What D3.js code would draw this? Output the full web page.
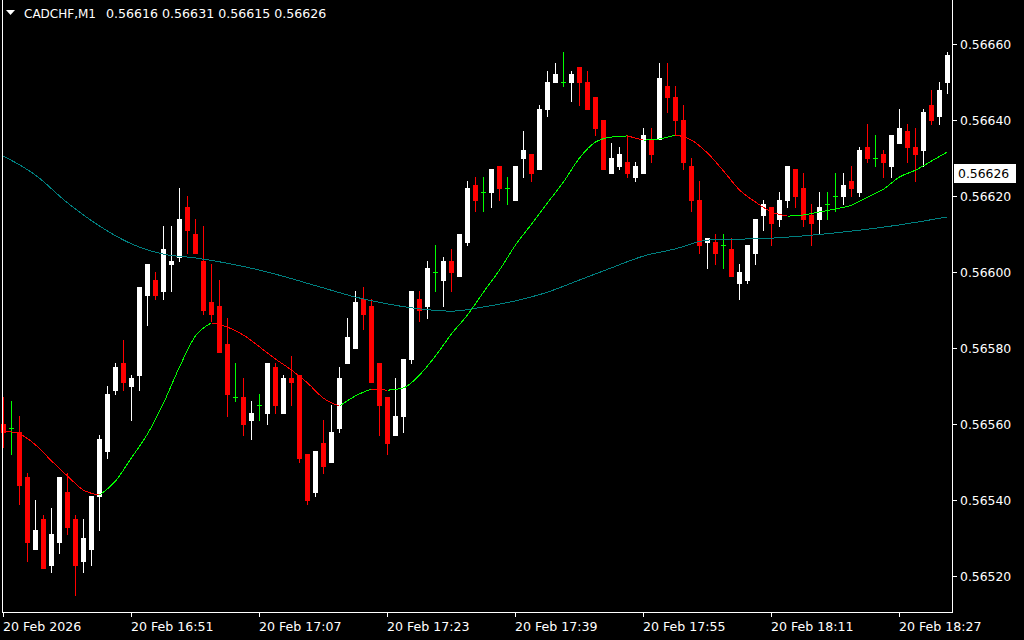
<!DOCTYPE html>
<html><head><meta charset="utf-8">
<script src="https://cdn.jsdelivr.net/npm/d3@7"></script>
<style>html,body{margin:0;padding:0;background:#000;overflow:hidden}svg{display:block}</style>
</head><body><svg id="c" width="1024" height="640"></svg>
<script>
const symbol = "CADCHF,M1";
const headerValues = ["0.56616", "0.56631", "0.56615", "0.56626"];
const currentPrice = 0.56626;
const startTime = new Date(2026, 1, 20, 16, 35);

const open = [
0.56560,0.56559,0.56558,0.56546,0.56527,0.56535,0.56523,0.56529,0.56542,0.56535,
0.56524,0.56527,0.56541,0.56553,0.56569,0.56576,0.56570,0.56573,0.56594,0.56598,
0.56595,0.56602,0.56604,0.56617,0.56610,0.56603,0.56592,0.56591,0.56581,0.56567,
0.56567,0.56561,0.56565,0.56563,0.56575,0.56563,0.56572,0.56573,0.56552,0.56542,
0.56555,0.56550,0.56559,0.56576,0.56580,0.56593,0.56591,0.56576,0.56567,0.56557,
0.56562,0.56577,0.56593,0.56591,0.56600,0.56598,0.56603,0.56599,0.56608,0.56623,
0.56621,0.56621,0.56628,0.56622,0.56619,0.56630,0.56631,0.56627,0.56643,0.56650,
0.56650,0.56650,0.56654,0.56650,0.56646,0.56640,0.56626,0.56628,0.56629,0.56625,
0.56626,0.56635,0.56635,0.56649,0.56646,0.56640,0.56628,0.56619,0.56608,0.56608,
0.56607,0.56606,0.56597,0.56598,0.56605,0.56615,0.56617,0.56614,0.56619,0.56627,
0.56622,0.56615,0.56614,0.56618,0.56620,0.56620,0.56624,0.56621,0.56633,0.56630,
0.56631,0.56628,0.56634,0.56637,0.56633,0.56632,0.56644,0.56641,0.56650];
const high = [
0.56567,0.56566,0.56562,0.56547,0.56540,0.56536,0.56538,0.56546,0.56547,0.56536,
0.56535,0.56541,0.56557,0.56570,0.56576,0.56582,0.56573,0.56596,0.56602,0.56600,
0.56612,0.56612,0.56622,0.56620,0.56614,0.56612,0.56602,0.56598,0.56588,0.56576,
0.56572,0.56566,0.56568,0.56576,0.56576,0.56573,0.56578,0.56573,0.56552,0.56553,
0.56561,0.56565,0.56575,0.56588,0.56595,0.56596,0.56593,0.56576,0.56567,0.56572,
0.56577,0.56595,0.56595,0.56603,0.56607,0.56604,0.56606,0.56610,0.56624,0.56625,
0.56625,0.56627,0.56628,0.56625,0.56628,0.56637,0.56631,0.56644,0.56653,0.56655,
0.56658,0.56653,0.56654,0.56653,0.56646,0.56640,0.56634,0.56633,0.56636,0.56629,
0.56638,0.56638,0.56655,0.56655,0.56649,0.56644,0.56630,0.56624,0.56609,0.56610,
0.56610,0.56609,0.56602,0.56607,0.56614,0.56619,0.56617,0.56621,0.56628,0.56627,
0.56626,0.56618,0.56621,0.56621,0.56626,0.56626,0.56628,0.56633,0.56639,0.56636,
0.56632,0.56636,0.56643,0.56639,0.56638,0.56643,0.56648,0.56650,0.56658];
const low = [
0.56554,0.56552,0.56539,0.56524,0.56527,0.56522,0.56521,0.56526,0.56531,0.56515,
0.56521,0.56523,0.56532,0.56551,0.56568,0.56569,0.56561,0.56569,0.56586,0.56593,
0.56593,0.56595,0.56603,0.56605,0.56605,0.56589,0.56587,0.56579,0.56562,0.56566,
0.56557,0.56556,0.56561,0.56560,0.56563,0.56563,0.56565,0.56550,0.56539,0.56541,
0.56547,0.56550,0.56558,0.56576,0.56580,0.56585,0.56571,0.56557,0.56552,0.56557,
0.56558,0.56576,0.56587,0.56588,0.56595,0.56591,0.56595,0.56599,0.56607,0.56616,
0.56616,0.56617,0.56619,0.56618,0.56619,0.56625,0.56624,0.56627,0.56641,0.56650,
0.56649,0.56645,0.56644,0.56643,0.56636,0.56627,0.56626,0.56627,0.56625,0.56624,
0.56626,0.56629,0.56635,0.56642,0.56636,0.56627,0.56616,0.56605,0.56601,0.56602,
0.56601,0.56599,0.56593,0.56597,0.56602,0.56611,0.56607,0.56612,0.56617,0.56617,
0.56612,0.56607,0.56610,0.56614,0.56616,0.56618,0.56620,0.56620,0.56629,0.56628,
0.56625,0.56625,0.56634,0.56629,0.56624,0.56628,0.56639,0.56639,0.56647];
const close = [
0.56558,0.56559,0.56544,0.56529,0.56532,0.56522,0.56531,0.56546,0.56533,0.56523,
0.56530,0.56541,0.56556,0.56568,0.56575,0.56571,0.56572,0.56596,0.56602,0.56594,
0.56606,0.56603,0.56614,0.56611,0.56605,0.56590,0.56589,0.56579,0.56568,0.56567,
0.56560,0.56563,0.56565,0.56576,0.56565,0.56572,0.56571,0.56551,0.56540,0.56553,
0.56549,0.56558,0.56572,0.56583,0.56592,0.56589,0.56571,0.56565,0.56555,0.56562,
0.56577,0.56595,0.56590,0.56601,0.56600,0.56603,0.56600,0.56610,0.56622,0.56619,
0.56621,0.56627,0.56622,0.56622,0.56628,0.56632,0.56626,0.56643,0.56650,0.56652,
0.56650,0.56652,0.56650,0.56643,0.56638,0.56627,0.56630,0.56631,0.56626,0.56628,
0.56636,0.56631,0.56651,0.56646,0.56640,0.56629,0.56619,0.56607,0.56609,0.56605,
0.56607,0.56599,0.56600,0.56607,0.56614,0.56618,0.56613,0.56619,0.56628,0.56620,
0.56614,0.56613,0.56617,0.56618,0.56620,0.56623,0.56622,0.56632,0.56630,0.56630,
0.56629,0.56636,0.56638,0.56633,0.56631,0.56642,0.56640,0.56648,0.56657];

// slow moving average (teal), sampled at bar indices
const maSlowIdx = [0,4,8,12,16,20,24,32,40,44,48,52,56,60,64,68,72,76,80,84,88,96,104,112,118];
const maSlow = [0.566305,0.566255,0.566182,0.566121,0.566074,0.566047,0.566037,0.566005,0.565958,0.565934,
0.565916,0.565903,0.565897,0.565908,0.565924,0.565947,0.565979,0.566011,0.566042,0.566061,0.566084,0.566089,
0.566103,0.566124,0.566145];

// fast moving average (green up / red down), sampled every 2 bars
const maFastIdx = d3.range(0, 119, 2);
const maFast = [0.565582,0.565574,0.565545,0.565503,0.565463,0.565426,0.565413,0.565450,0.565511,0.565574,
0.565655,0.565750,0.565832,0.565866,0.565855,0.565834,0.565803,0.565771,0.565742,0.565708,
0.565668,0.565647,0.565674,0.565692,0.565689,0.565695,0.565729,0.565779,0.565837,0.565887,
0.565947,0.566005,0.566071,0.566126,0.566182,0.566237,0.566300,0.566342,0.566355,0.566358,
0.566347,0.566350,0.566361,0.566347,0.566313,0.566266,0.566216,0.566184,0.566158,0.566147,
0.566150,0.566158,0.566166,0.566176,0.566197,0.566218,0.566250,0.566268,0.566292,0.566316];

const timeTickIdx = [0,16,32,48,64,80,96,112];
const timeTickLabels = ["20 Feb 2026","20 Feb 16:51","20 Feb 17:07","20 Feb 17:23","20 Feb 17:39","20 Feb 17:55","20 Feb 18:11","20 Feb 18:27"];
const priceTicks = [0.5652,0.5654,0.5656,0.5658,0.5660,0.5662,0.5664,0.5666];
const priceTickLabels = ["0.56520","0.56540","0.56560","0.56580","0.56600","0.56620","0.56640","0.56660"];

const times = open.map((_, i) => d3.timeMinute.offset(startTime, i));
const bars = open.map((o, i) => ({i, t: times[i], o, h: high[i], l: low[i], c: close[i]}));

const FONT = "DejaVu Sans, Verdana, sans-serif";
const svg = d3.select("#c");
svg.append("rect").attr("width",1024).attr("height",640).attr("fill","#000");

const x = d3.scaleLinear().domain([0, 118]).range([3.5, 947.5]);
const y = d3.scaleLinear().domain([0.5652, 0.5666]).range([576, 44]);
const py = v => Math.round(y(v));

const g = svg.append("g").attr("shape-rendering","crispEdges");

// candles
bars.forEach(b => {
  const cx = x(b.i);
  const up = b.c > b.o, doji = b.c === b.o;
  const col = doji ? "#00ff00" : (up ? "#ffffff" : "#ff0000");
  const hi = py(b.h), lo = py(b.l);
  g.append("rect").attr("x", cx - 0.5).attr("y", hi).attr("width", 1).attr("height", Math.max(1, lo - hi + 1)).attr("fill", col);
  if (doji) {
    g.append("rect").attr("x", cx - 2.5).attr("y", py(b.o)).attr("width", 5).attr("height", 1).attr("fill", col);
  } else {
    const top = py(Math.max(b.o, b.c)), bot = py(Math.min(b.o, b.c));
    g.append("rect").attr("x", cx - 2.5).attr("y", top).attr("width", 5).attr("height", Math.max(1, bot - top + 1)).attr("fill", col);
  }
});

// slow MA
const slowPts = maSlowIdx.map((k, j) => [x(k), y(maSlow[j])]);
g.append("path").attr("d", d3.line().curve(d3.curveMonotoneX)(slowPts))
  .attr("fill","none").attr("stroke","#008080").attr("stroke-width",1);

// fast MA split into runs by direction
const fastPts = maFastIdx.map((k, j) => ({x: x(k), y: y(maFast[j]), v: maFast[j]}));
let runs = [], cur = null;
for (let j = 1; j < fastPts.length; j++) {
  const dir = fastPts[j].v >= fastPts[j-1].v ? "up" : "down";
  if (!cur || cur.dir !== dir) { cur = {dir, pts: [fastPts[j-1]]}; runs.push(cur); }
  cur.pts.push(fastPts[j]);
}
const fl = d3.line().x(d => d.x).y(d => d.y).curve(d3.curveMonotoneX);
runs.forEach(r => {
  g.append("path").attr("d", fl(r.pts)).attr("fill","none")
    .attr("stroke", r.dir === "up" ? "#00ff00" : "#ff0000").attr("stroke-width",1);
});

// frame
g.append("rect").attr("x",2).attr("y",0).attr("width",1).attr("height",613).attr("fill","#fff");
g.append("rect").attr("x",952).attr("y",0).attr("width",1).attr("height",613).attr("fill","#fff");
g.append("rect").attr("x",2).attr("y",612).attr("width",951).attr("height",1).attr("fill","#fff");

// price axis
priceTicks.forEach((p, j) => {
  const yy = py(p);
  g.append("rect").attr("x",953).attr("y",yy).attr("width",4).attr("height",1).attr("fill","#fff");
  svg.append("text").attr("x",960).attr("y",yy + 4.5).attr("fill","#fff")
    .attr("font-family",FONT).attr("font-size","12.4px").text(priceTickLabels[j]);
});
// current price label
const cy = y(currentPrice);
g.append("rect").attr("x",954).attr("y",Math.round(cy) - 9).attr("width",62).attr("height",19).attr("fill","#fff");
svg.append("text").attr("x",958).attr("y",Math.round(cy) + 5).attr("fill","#000")
  .attr("font-family",FONT).attr("font-size","12.4px").text(d3.format(".5f")(currentPrice));

// time axis
timeTickIdx.forEach((k, j) => {
  const xx = Math.round(x(k) - 0.5);
  g.append("rect").attr("x",xx).attr("y",613).attr("width",1).attr("height",4).attr("fill","#fff");
  svg.append("text").attr("x",xx).attr("y",631).attr("fill","#fff")
    .attr("font-family",FONT).attr("font-size","12.6px").text(timeTickLabels[j]);
});

// header
svg.append("path").attr("d","M6,10 L15,10 L10.5,15 Z").attr("fill","#fff");
svg.append("text").attr("x",24).attr("y",18).attr("fill","#fff").attr("font-family",FONT).attr("font-size","12px").text(symbol);
svg.append("text").attr("x",106).attr("y",18).attr("fill","#fff").attr("font-family",FONT).attr("font-size","12.6px")
  .attr("style","white-space:pre").text(headerValues.join(" "));
</script>
</body></html>
